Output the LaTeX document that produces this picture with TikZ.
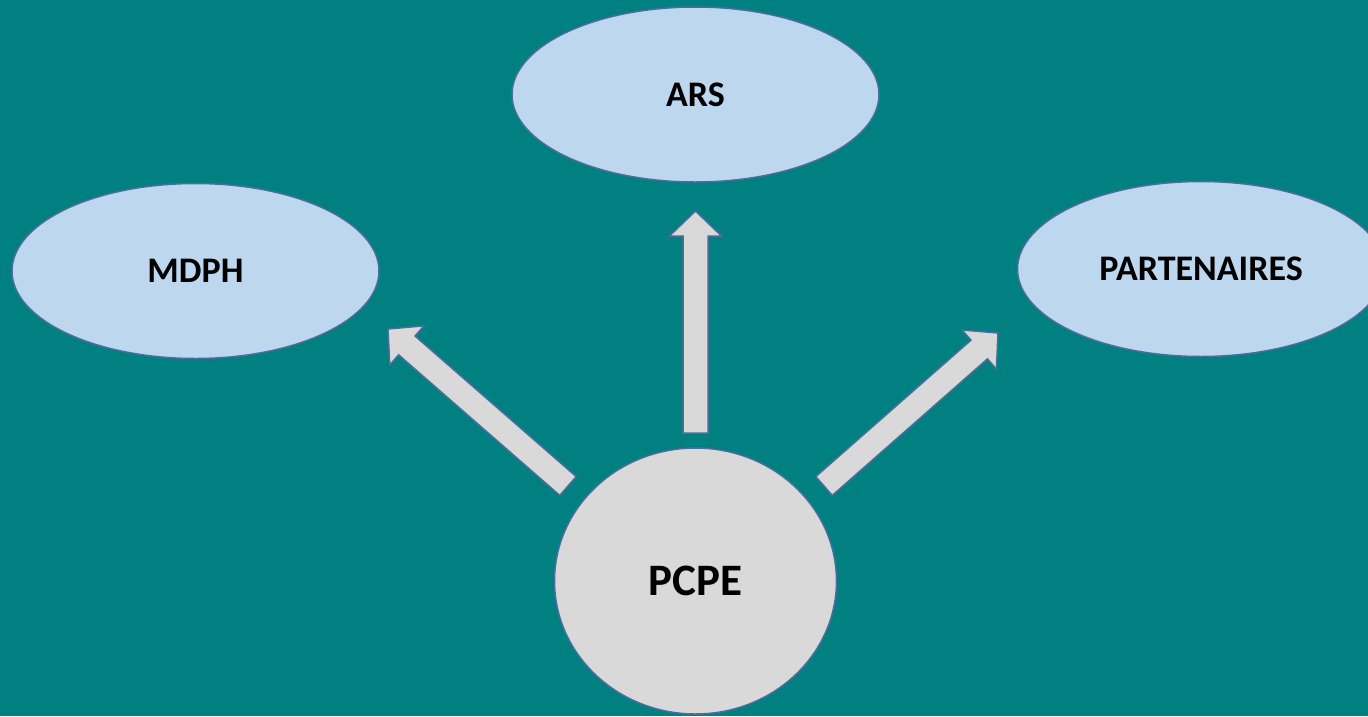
\documentclass[tikz,border=0pt]{standalone}
\usepackage{fontspec}
\setmainfont{Carlito}
\usetikzlibrary{ shapes.geometric, % For the ellipses
                 calc,             % For the block arrow corners
               }
\definecolor{teal0}{HTML}{008080}
\definecolor{bubblefill}{HTML}{BDD7EE}
\definecolor{greyfill}{HTML}{D9D9D9}
\definecolor{outline}{HTML}{4A6E9C}
\tikzstyle{bubble} = [ellipse, inner sep=0pt, minimum width=367pt, minimum height=175pt, fill=bubblefill, draw=outline, line width=1.5pt, font=\fontsize{36}{40}\selectfont\bfseries]
\tikzstyle{hub} = [ellipse, inner sep=0pt, minimum width=282pt, minimum height=266pt, fill=greyfill, draw=outline, line width=1.5pt, font=\fontsize{45}{50}\selectfont\bfseries]
\tikzstyle{arrowbody} = [fill=greyfill, draw=outline, line width=1.5pt, line join=miter]
% block arrow from #1 (tail) to #2 (tip)
\newcommand{\blockarrow}[2]{%
  \coordinate (ba-base) at ($(#2)!25pt!(#1)$);
  \draw [arrowbody] ($(#1)!12.5pt!90:(#2)$) -- ($(ba-base)!12.5pt!90:(#2)$)
    -- ($(ba-base)!26pt!90:(#2)$) -- (#2) -- ($(ba-base)!26pt!-90:(#2)$)
    -- ($(ba-base)!12.5pt!-90:(#2)$) -- ($(#1)!12.5pt!-90:(#2)$) -- cycle;
}

\begin{document}
\begin{tikzpicture}[x=1pt, y=-1pt]
  \fill [teal0] (0, 0) rectangle (1368, 716);
  \useasboundingbox (0, 0) rectangle (1368, 716);

  \node (ars) [bubble] at (695.5, 94.5) {ARS};
  \node (mdph) [bubble] at (195.5, 271) {MDPH};
  \node (part) [bubble] at (1201, 269) {PARTENAIRES};
  \node (pcpe) [hub] at (695.5, 581) {PCPE};

  \coordinate (ars-tail) at (695.5, 433);
  \coordinate (ars-tip) at (695.5, 211);
  \coordinate (mdph-tail) at (568, 486);
  \coordinate (mdph-tip) at (388, 329);
  \coordinate (part-tail) at (824, 486);
  \coordinate (part-tip) at (998, 333);

  \blockarrow{ars-tail}{ars-tip}
  \blockarrow{mdph-tail}{mdph-tip}
  \blockarrow{part-tail}{part-tip}
\end{tikzpicture}
\end{document}
